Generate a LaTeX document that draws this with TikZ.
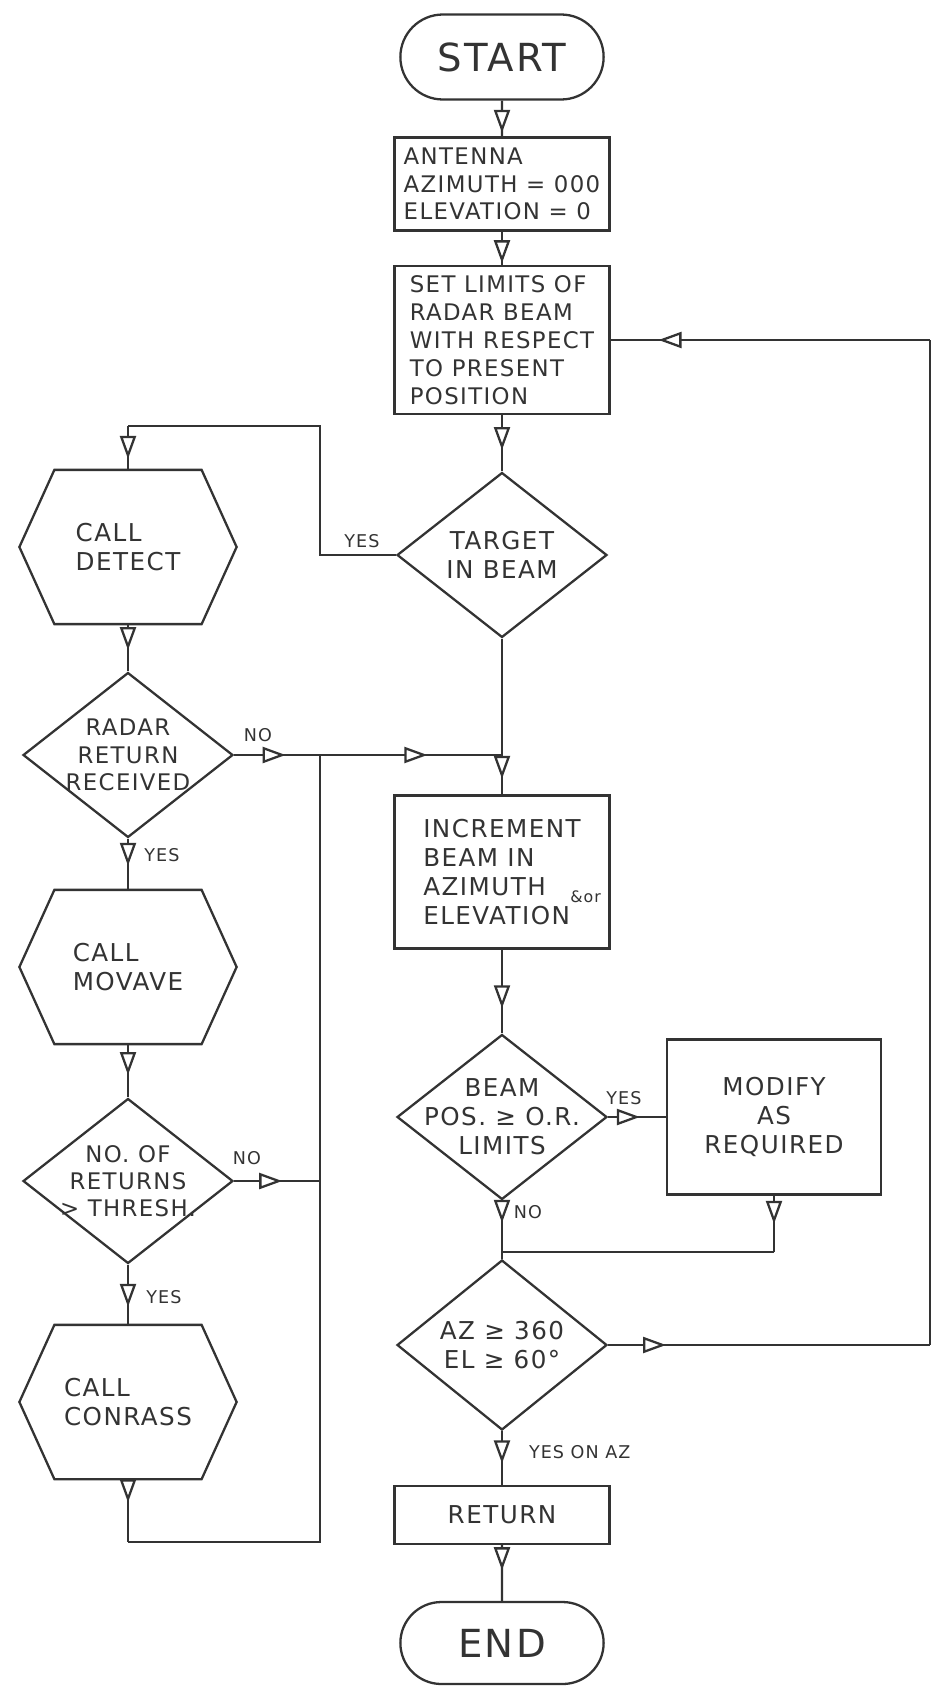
\documentclass[tikz,border=0pt]{standalone}
\usepackage{fontspec}
\setmainfont{DejaVu Sans}[LetterSpace=6]
\usetikzlibrary{positioning, arrows.meta, shapes.geometric, shapes.misc, decorations.markings}
\tikzset{flow/.style={postaction={decorate}, decoration={markings, mark=at position #1 with {\arrow{Triangle[fill=white, width=0.32cm, length=0.46cm]}}}}}

\begin{document}
\begin{tikzpicture}[x=0.02cm, y=-0.02cm, line width=1.3pt, color=black!80]
        \tikzstyle{every node}=[font=\fontsize{14}{16.5}\selectfont]
        \tikzstyle{terminal} = [rounded rectangle, draw, minimum width=4.3cm, minimum height=1.7cm, font=\fontsize{22}{26}\selectfont]
        \tikzstyle{process} = [rectangle, draw, minimum width=4.3cm, align=left]
        \tikzstyle{decision} = [diamond, draw, inner sep=-0.5cm, minimum width=4.2cm, minimum height=3.3cm, align=center]
        \tikzstyle{call} = [rectangle, minimum width=4.3cm, minimum height=3.04cm, align=left]
        \tikzstyle{answer} = [font=\fontsize{10}{12}\selectfont]

        \useasboundingbox (0,0) rectangle (934,1687);

        % main column
        \node[terminal](start) at (502,57) {START};
        \node[process, minimum height=1.86cm, font=\fontsize{13}{15.5}\selectfont](antenna) at (502,184) {ANTENNA\\AZIMUTH = 000\\ELEVATION = 0};
        \node[process, minimum height=2.96cm, font=\fontsize{13}{16}\selectfont](limits) at (502,340) {SET LIMITS OF\\RADAR BEAM\\WITH RESPECT\\TO PRESENT\\POSITION};
        \node[decision](target) at (502,555) {TARGET\\IN BEAM};
        \node[process, minimum height=3.06cm](increment) at (502,872) {INCREMENT\\BEAM IN\\AZIMUTH\rlap{\hspace{14pt}\fontsize{9}{10}\selectfont\raisebox{-0.8ex}{\&or}}\\ELEVATION};
        \node[decision](beam) at (502,1117) {BEAM\\POS. ≥ O.R.\\LIMITS};
        \node[process, minimum width=4.28cm, minimum height=3.1cm, align=center](modify) at (774,1117) {MODIFY\\AS\\REQUIRED};
        \node[decision, minimum height=3.4cm](azel) at (502,1345) {AZ ≥ 360\\EL ≥ 60°};
        \node[process, minimum height=1.16cm, align=center](return) at (502,1515) {RETURN};
        \node[terminal, minimum height=1.64cm](end) at (502,1643) {END};

        % left column
        \node[call](detect) at (128,547) {CALL\\DETECT};
        \node[decision, font=\fontsize{13}{15.5}\selectfont](radar) at (128,755) {RADAR\\RETURN\\RECEIVED};
        \node[call](movave) at (128,967) {CALL\\MOVAVE};
        \node[decision, font=\fontsize{13}{15.5}\selectfont](thresh) at (128,1181) {NO. OF\\RETURNS\\> THRESH.};
        \node[call](conrass) at (128,1402) {CALL\\CONRASS};

        % hexagon outlines for the calls
        \foreach \n in {detect, movave, conrass}
            \draw ([xshift=0.7cm]\n.north west) -- ([xshift=-0.7cm]\n.north east) -- (\n.east)
                -- ([xshift=-0.7cm]\n.south east) -- ([xshift=0.7cm]\n.south west) -- (\n.west) -- cycle;

        % corner points
        \coordinate (yesleft) at (320,555);
        \coordinate (yestop) at (320,426);
        \coordinate (yescorner) at (128,426);
        \coordinate (nojoin) at (320,755);
        \coordinate (nomain) at (502,755);
        \coordinate (threshjoin) at (320,1181);
        \coordinate (callbottom) at (128,1542);
        \coordinate (trunkbottom) at (320,1542);
        \coordinate (modifycorner) at (774,1252);
        \coordinate (modifyjoin) at (502,1252);
        \coordinate (loopright) at (930,1345);
        \coordinate (looptop) at (930,340);

        \draw[flow=0.9] (start) -- (antenna);
        \draw[flow=0.95] (antenna) -- (limits);
        \draw[flow=0.62] (limits) -- (target);
        \draw (target.west) -- (yesleft) -- (yestop) -- (yescorner);
        \draw[flow=0.75] (yescorner) -- (detect.north);
        \draw[flow=0.9] (target) -- (increment);
        \draw[flow=0.7] (increment) -- (beam);
        \draw[flow=0.55] (beam) -- (modify);
        \draw[flow=0.38] (beam) -- (azel);
        \draw[flow=0.5] (modify) -- (modifycorner);
        \draw (modifycorner) -- (modifyjoin);
        \draw[flow=0.6] (azel) -- (return);
        \draw[flow=0.45] (return) -- (end);

        % loop back to the beam limits
        \draw[flow=0.18] (azel.east) -- (loopright);
        \draw (loopright) -- (looptop);
        \draw[flow=0.85] (looptop) -- (limits.east);

        % left column flow
        \draw[flow=0.55] (detect) -- (radar);
        \draw[flow=0.53] (radar) -- (movave);
        \draw[flow=0.58] (movave) -- (thresh);
        \draw[flow=0.7] (thresh) -- (conrass);
        \draw[flow=0.37] (conrass) -- (callbottom);
        \draw (callbottom) -- (trunkbottom) -- (nojoin);
        \draw[flow=0.6] (radar.east) -- (nojoin);
        \draw[flow=0.59] (nojoin) -- (nomain);
        \draw[flow=0.56] (thresh.east) -- (threshjoin);

        % branch labels
        \node[answer](yes1) at (362,541) {YES};
        \node[answer](no1) at (258,735) {NO};
        \node[answer](yes2) at (162,855) {YES};
        \node[answer](no2) at (247,1158) {NO};
        \node[answer](yes3) at (164,1297) {YES};
        \node[answer](yes4) at (624,1098) {YES};
        \node[answer](no3) at (528,1212) {NO};
        \node[answer, anchor=west](yes5) at (522,1452) {YES ON AZ};
\end{tikzpicture}
\end{document}
